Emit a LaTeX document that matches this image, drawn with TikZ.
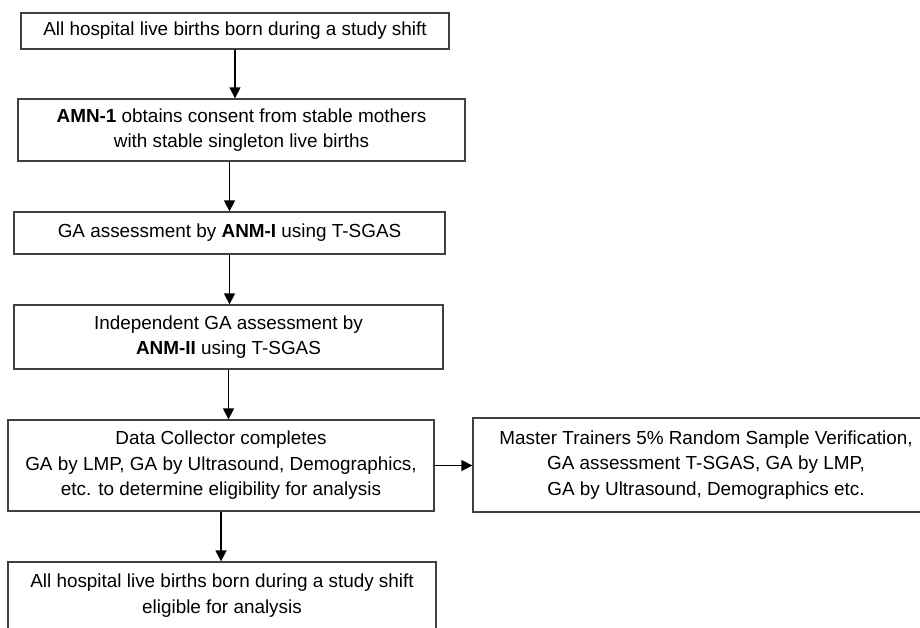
\documentclass[tikz,border=0pt]{standalone}
\usepackage{fontspec}
\setmainfont{Liberation Sans}
\usetikzlibrary{arrows.meta}
\begin{document}
\begin{tikzpicture}[x=1pt,y=-1pt,
  flowbox/.style={draw=black!75,line width=1.3pt,align=center,inner sep=0pt,
    font=\fontsize{18.9}{25.5}\selectfont},
  flowarrow/.style={draw=black,line width=1.5pt,-{Triangle[width=11pt,length=11pt]}}]
\useasboundingbox (0,0) rectangle (920,628);
\clip (0,0) rectangle (920,628);
\node[flowbox,minimum width=428pt,minimum height=36pt] (births) at (235,31) {All hospital live births born during a study shift};
\node[flowbox,minimum width=447pt,minimum height=62pt] (consent) at (241.5,130) {\textbf{AMN-1} obtains consent from stable mothers\\with stable singleton live births};
\node[flowbox,minimum width=431pt,minimum height=42pt] (anmone) at (229.5,233) {GA assessment by \textbf{ANM-I} using T-SGAS};
\node[flowbox,minimum width=429pt,minimum height=64pt] (anmtwo) at (228.5,337) {Independent GA assessment by\\\textbf{ANM-II} using T-SGAS};
\node[flowbox,minimum width=426pt,minimum height=91pt] (collector) at (221,465.5) {Data Collector completes\\GA by LMP, GA by Ultrasound, Demographics,\\etc. to determine eligibility for analysis};
\node[flowbox,minimum width=466pt,minimum height=94pt] (master) at (706,465) {Master Trainers 5\% Random Sample Verification,\\GA assessment T-SGAS, GA by LMP,\\GA by Ultrasound, Demographics etc.};
\node[flowbox,minimum width=428pt,minimum height=67pt] (eligible) at (222,595.5) {All hospital live births born during a study shift\\eligible for analysis};
% arrows
\draw[flowarrow] (births.south) -- (births.south |- consent.north);
\draw[flowarrow] (anmone.north |- consent.south) -- (anmone.north);
\draw[flowarrow] (anmone.south) -- (anmone.south |- anmtwo.north);
\draw[flowarrow] (anmtwo.south) -- (anmtwo.south |- collector.north);
\draw[flowarrow] (collector.east) -- (collector.east -| master.west);
\draw[flowarrow] (collector.south) -- (collector.south |- eligible.north);
\end{tikzpicture}
\end{document}
